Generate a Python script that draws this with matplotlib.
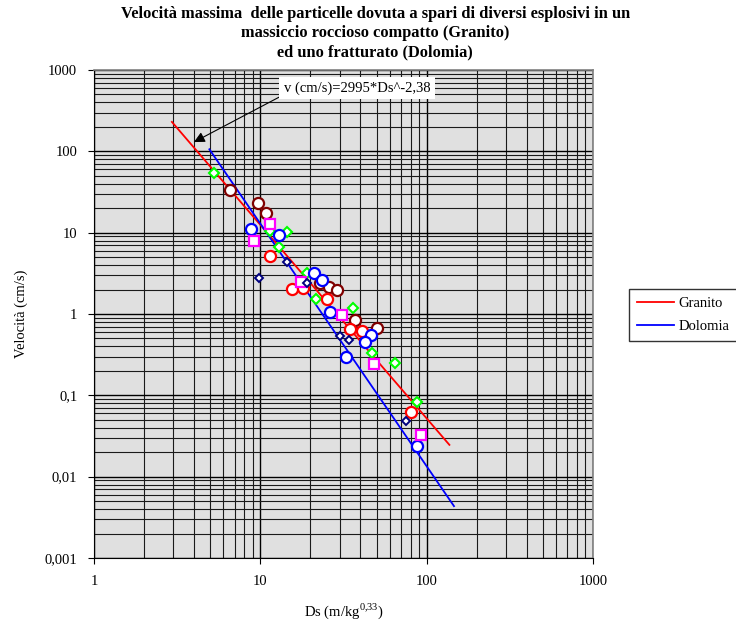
import matplotlib
matplotlib.use("Agg")
import matplotlib.pyplot as plt
from matplotlib.ticker import LogLocator, FixedLocator, FuncFormatter, NullFormatter

plt.rcParams['font.family'] = ['Liberation Serif', 'DejaVu Serif']
plt.rcParams['mathtext.fontset'] = 'custom'
plt.rcParams['mathtext.rm'] = 'Liberation Serif'

# scatter series (Ds, velocity)
green_x = [5.27, 11.44, 14.47, 12.96, 19.2, 21.5, 35.9, 46.8, 64.3, 87.2]
green_y = [54.1, 10.46, 10.17, 6.65, 3.23, 1.55, 1.18, 0.331, 0.249, 0.0837]

maroon_x = [6.57, 9.69, 10.87, 22.9, 25.9, 29.1, 37.1, 50.1]
maroon_y = [33.9, 22.9, 17.3, 2.39, 2.12, 1.96, 0.849, 0.671]

red_x = [11.48, 15.57, 18.14, 25.3, 34.5, 40.9, 80.6]
red_y = [5.13, 2.04, 2.06, 1.54, 0.658, 0.616, 0.0616]

blue_x = [8.85, 12.99, 20.9, 23.5, 26.25, 46.2, 42.6, 32.9, 87.2]
blue_y = [10.98, 9.48, 3.20, 2.61, 1.055, 0.558, 0.449, 0.293, 0.0235]

magenta_x = [11.44, 9.19, 17.5, 31.0, 48.3, 92.2]
magenta_y = [12.76, 7.88, 2.50, 0.983, 0.242, 0.0322]

navy_x = [9.82, 14.51, 19.2, 30.0, 34.2, 75.2]
navy_y = [2.74, 4.35, 2.40, 0.530, 0.478, 0.0478]

# fitted lines (end points)
granito_x = [2.94, 137]
granito_y = [230, 0.0246]
dolomia_x = [4.94, 146]
dolomia_y = [106, 0.00434]

y_ticks = [0.001, 0.01, 0.1, 1, 10, 100, 1000]
y_labels = ["0,001", "0,01", "0,1", "1", "10", "100", "1000"]
x_ticks = [1, 10, 100, 1000]
x_labels = ["1", "10", "100", "1000"]

fig = plt.figure(figsize=(7.36, 6.29), dpi=100)
ax = fig.add_axes([0.1277, 0.1129, 0.678, 0.7758])
ax.set_facecolor('#E0E0E0')
ax.set_xscale('log')
ax.set_yscale('log')
ax.set_xlim(1, 1000)
ax.set_ylim(0.001, 1000)

ax.xaxis.set_major_locator(FixedLocator(x_ticks))
ax.yaxis.set_major_locator(FixedLocator(y_ticks))
ax.xaxis.set_major_formatter(FuncFormatter(lambda v, p: x_labels[x_ticks.index(v)] if v in x_ticks else ""))
ax.yaxis.set_major_formatter(FuncFormatter(lambda v, p: y_labels[y_ticks.index(v)] if v in y_ticks else ""))
ax.xaxis.set_minor_locator(LogLocator(base=10, subs=range(2, 10)))
ax.yaxis.set_minor_locator(LogLocator(base=10, subs=range(2, 10)))
ax.xaxis.set_minor_formatter(NullFormatter())
ax.yaxis.set_minor_formatter(NullFormatter())
ax.grid(which='major', color='black', lw=1.0)
ax.grid(which='minor', color='#1a1a1a', lw=0.8)
ax.set_axisbelow(True)
ax.tick_params(which='major', direction='out', length=4, labelsize=10.5, pad=8)
ax.tick_params(which='minor', length=0)
for s in ['top', 'right']:
    ax.spines[s].set_color('#808080')
    ax.spines[s].set_linewidth(1.2)
for s in ['left', 'bottom']:
    ax.spines[s].set_color('black')

ax.plot(granito_x, granito_y, color='#FF0000', lw=1.3, label='Granito', zorder=3)
ax.plot(dolomia_x, dolomia_y, color='#0000FF', lw=1.3, label='Dolomia', zorder=3)

mk = dict(ls='none', markerfacecolor='white', zorder=4)
ax.plot(green_x, green_y, marker='D', ms=5.5, mew=1.5, color='#00FF00', **mk)
ax.plot(maroon_x, maroon_y, marker='o', ms=8, mew=1.6, color='#800000', **mk)
ax.plot(red_x, red_y, marker='o', ms=8, mew=1.6, color='#FF0000', **mk)
ax.plot(blue_x, blue_y, marker='o', ms=8, mew=1.6, color='#0000FF', **mk)
ax.plot(magenta_x, magenta_y, marker='s', ms=7.5, mew=1.6, color='#FF00FF', **mk)
ax.plot(navy_x, navy_y, marker='D', ms=4.5, mew=1.4, color='#000080', **mk)

ax.annotate("v (cm/s)=2995*Ds^-2,38", xy=(3.99, 130), xytext=(13.8, 600),
            fontsize=10.5, va='center', ha='left',
            bbox=dict(boxstyle='square,pad=0.3', fc='white', ec='none'),
            arrowprops=dict(arrowstyle='-|>', color='black', lw=0.8,
                            mutation_scale=16, shrinkA=0, shrinkB=0,
                            relpos=(0.0, 0.0)),
            zorder=6)

ax.set_xlabel("Ds (m/kg$^{0{,}33}$)", fontsize=10.5, labelpad=10)
ax.set_ylabel("Velocità (cm/s)", fontsize=10.5, labelpad=12)

fig.text(0.51, 0.99, "Velocità massima  delle particelle dovuta a spari di diversi esplosivi in un\n"
         "massiccio roccioso compatto (Granito)\ned uno fratturato (Dolomia)",
         ha='center', va='top', fontsize=11.8, fontweight='bold', linespacing=1.25)

leg = fig.legend(loc='upper left', bbox_to_anchor=(0.855, 0.54), frameon=True,
                 fancybox=False, fontsize=10.5, handlelength=2.6, borderpad=0.5,
                 labelspacing=0.7, handletextpad=0.3, borderaxespad=0.0)
leg.get_frame().set_edgecolor('black')
leg.get_frame().set_linewidth(1.0)

fig.savefig("out.png", dpi=100)
